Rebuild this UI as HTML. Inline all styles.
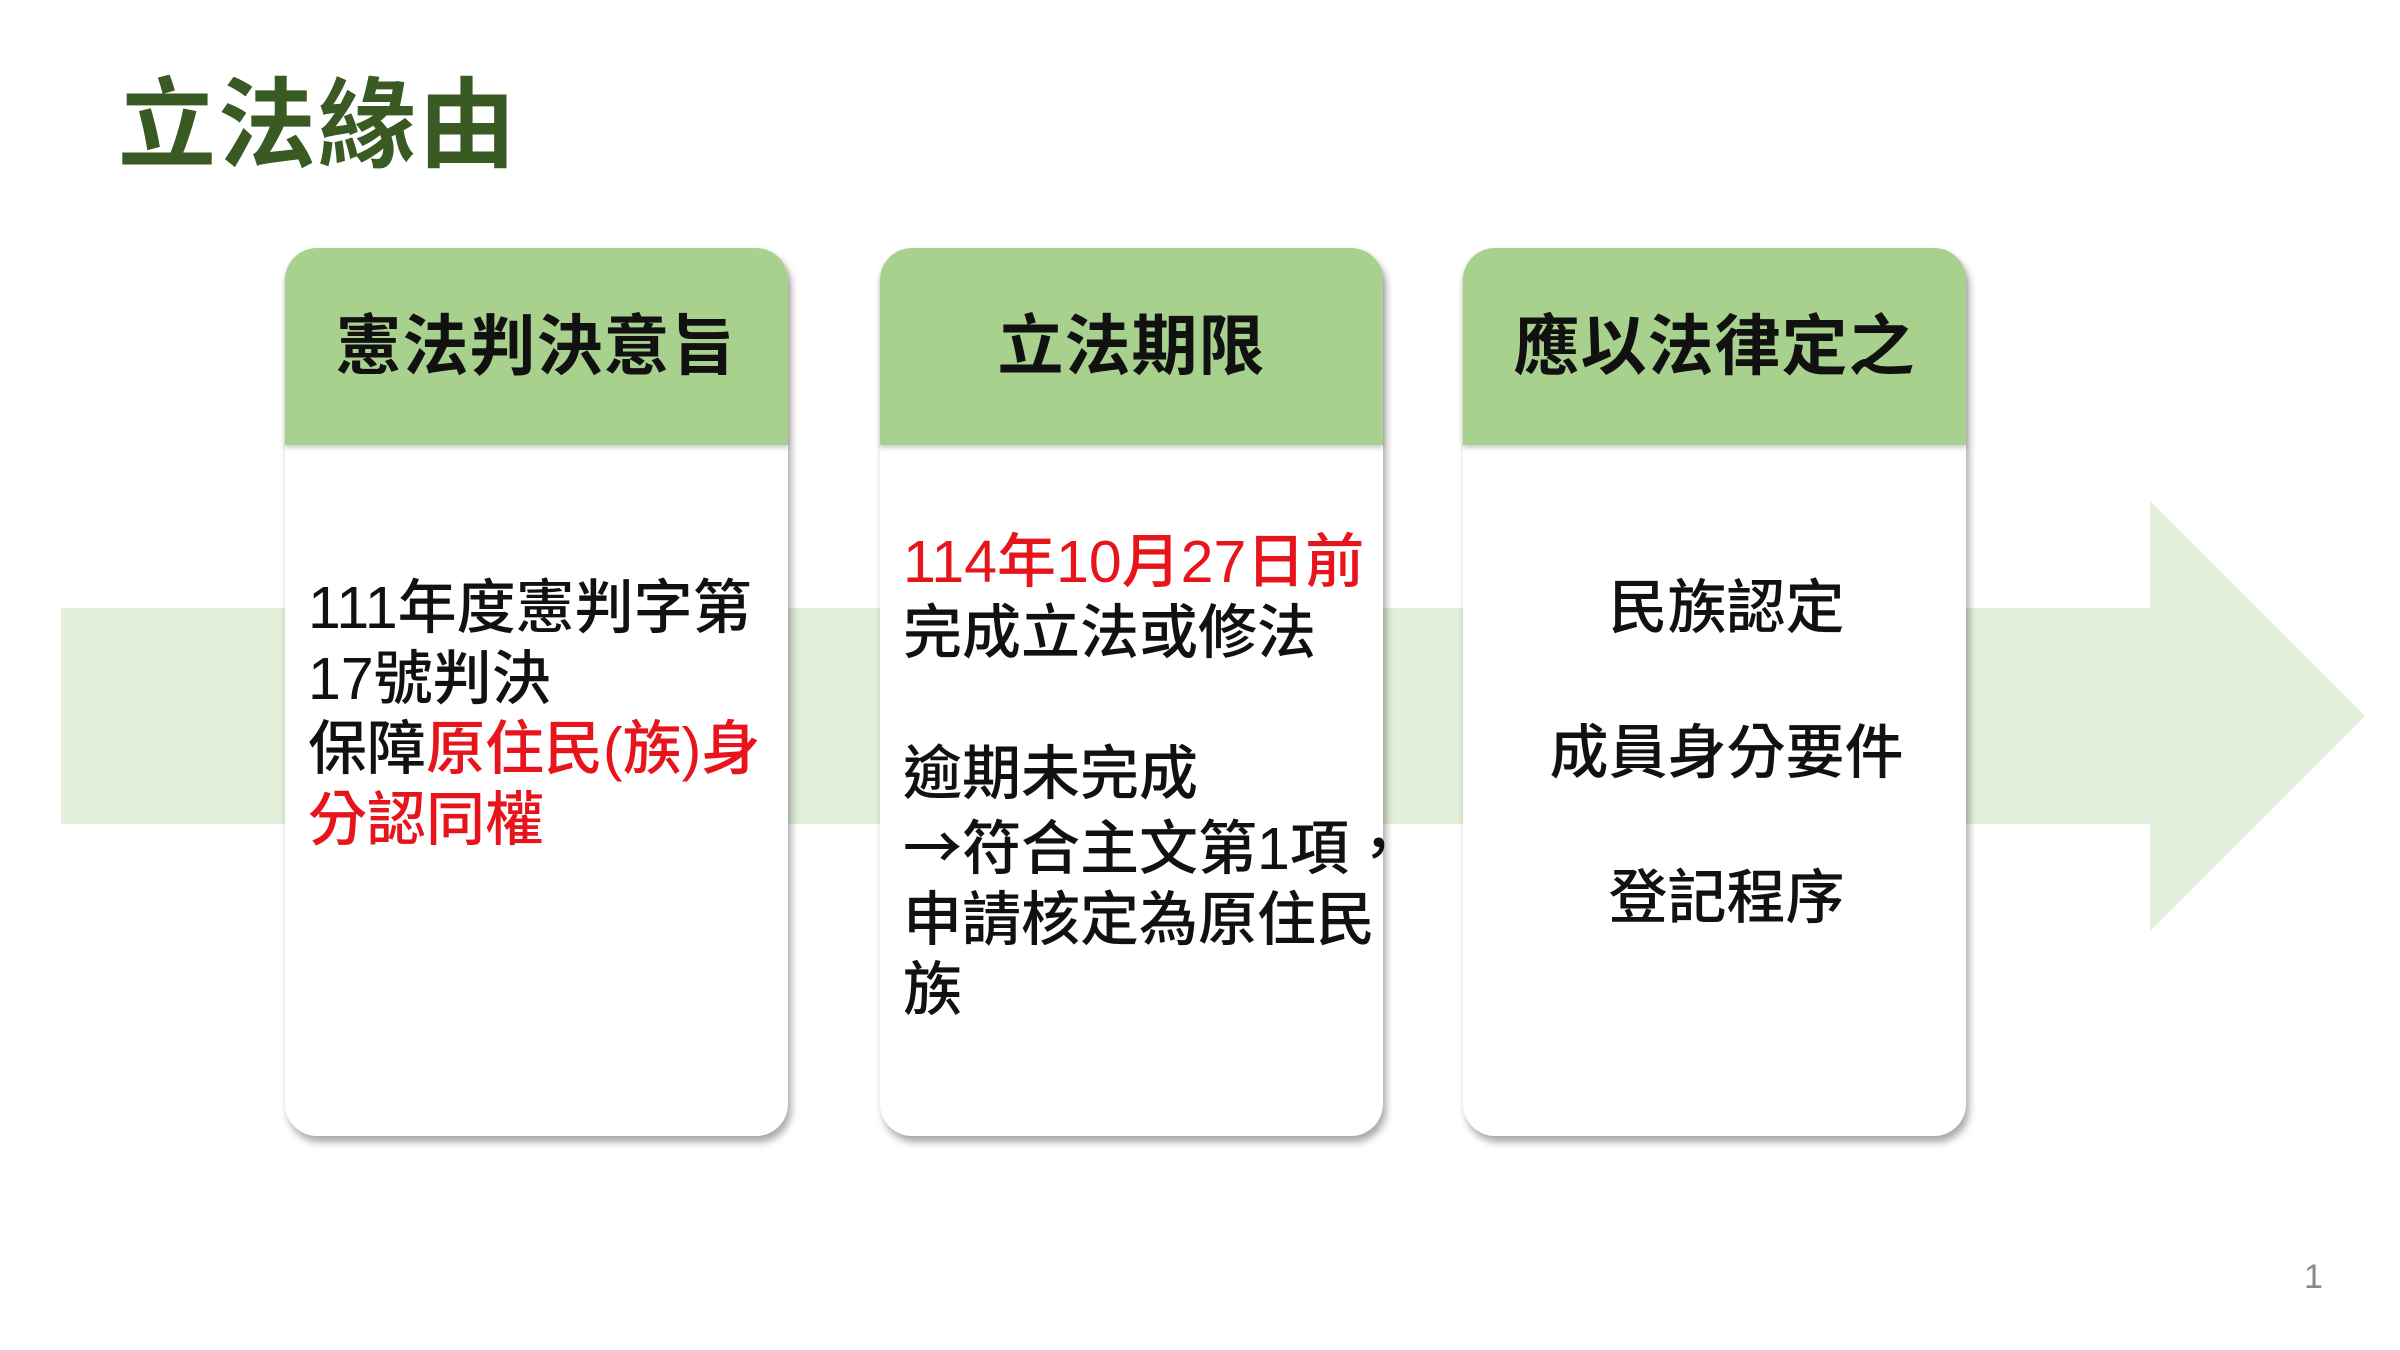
<!DOCTYPE html>
<html><head><meta charset="utf-8"><style>
html,body{margin:0;padding:0;background:#fff;}
body{width:2400px;height:1350px;position:relative;overflow:hidden;font-family:"Liberation Sans","Noto Sans CJK TC",sans-serif;}
.abs{position:absolute;}
.card{position:absolute;top:248px;width:503px;height:888px;background:#fff;border-radius:32px;box-shadow:3px 6px 8px rgba(0,0,0,0.35);}
.hd{position:absolute;left:0;top:0;width:100%;height:197px;background:#A9D18E;border-radius:32px 32px 0 0;box-shadow:0 3px 5px rgba(0,0,0,0.2);text-align:center;line-height:197px;font-size:66px;font-weight:700;color:#111;letter-spacing:1px;}
.txt{position:absolute;font-size:59px;line-height:70.5px;color:#111;font-weight:500;white-space:nowrap;}
.r{color:#e8141b;}
.cjk{font-family:"Noto Sans CJK TC",sans-serif;}
</style></head><body>
<div class="abs" style="left:118px;top:60px;font-size:98px;font-weight:700;color:#3a5a24;line-height:130px;letter-spacing:2px;">立法緣由</div>
<svg class="abs" style="left:0;top:0" width="2400" height="1350">
<polygon points="61,608 2150,608 2150,501 2365,716 2150,931 2150,824 61,824" fill="#E2EFDA"/>
</svg>
<div class="card" style="left:285px"><div class="hd">憲法判決意旨</div>
<div class="txt" style="left:23px;top:325px;">111年度憲判字第<br>17號判決<br>保障<span class="r">原住民(族)身</span><br><span class="r">分認同權</span></div></div>
<div class="card" style="left:880px"><div class="hd">立法期限</div>
<div class="txt" style="left:23px;top:279px;"><span class="r">114年10月27日前</span><br>完成立法或修法<br><br>逾期未完成<br><span class="cjk">→</span>符合主文第1項，<br>申請核定為原住民<br>族</div></div>
<div class="card" style="left:1463px"><div class="hd">應以法律定之</div>
<div class="txt" style="left:12px;width:503px;text-align:center;top:288px;line-height:145px;">民族認定<br>成員身分要件<br>登記程序</div></div>
<div class="abs" style="left:2304px;top:1258px;font-size:34px;color:#888;">1</div>
</body></html>
